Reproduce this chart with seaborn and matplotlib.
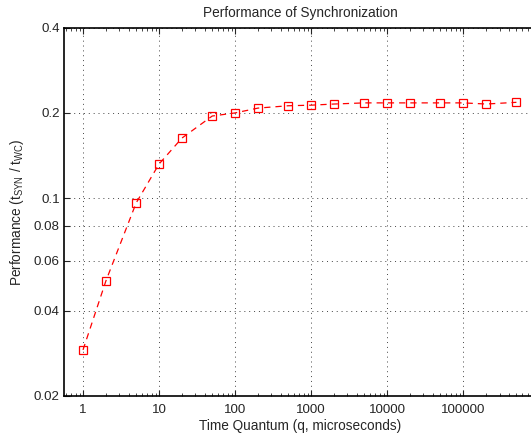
import numpy as np
import pandas as pd
import seaborn as sns
import matplotlib
matplotlib.use('Agg')
import matplotlib.pylab as plt
from matplotlib.ticker import FixedLocator, FixedFormatter, LogLocator, NullFormatter, NullLocator

quantum = [1, 2, 5, 10, 20, 50, 100, 200, 500, 1000, 2000, 5000,
           10000, 20000, 50000, 100000, 200000, 500000]
perf = [0.0291, 0.051, 0.0962, 0.132, 0.163, 0.195, 0.200, 0.208, 0.212, 0.213,
        0.215, 0.217, 0.217, 0.217, 0.217, 0.217, 0.215, 0.218]
xticks = [1, 10, 100, 1000, 10000, 100000]
xtick_labels = ['1', '10', '100', '1000', '10000', '100000']
yticks = [0.02, 0.04, 0.06, 0.08, 0.1, 0.2, 0.4]
ytick_labels = ['0.02', '0.04', '0.06', '0.08', '0.1', '0.2', '0.4']

sns.set_style('white')
plt.rcParams['font.family'] = ['Liberation Sans', 'DejaVu Sans']
plt.rcParams['mathtext.default'] = 'regular'

df = pd.DataFrame({'q': quantum, 'perf': perf})

fig = plt.figure(figsize=(5.31, 4.36), dpi=100)
ax = fig.add_axes([64/531, 1-396/436, 1-64/531+0.01, (396-27.7)/436])

sns.lineplot(data=df, x='q', y='perf', ax=ax, color='red', linestyle='--', lw=0.9,
             marker='s', markersize=5.5, markerfacecolor='none', markeredgecolor='red',
             markeredgewidth=0.9, dashes=False)
ax.lines[0].set_linestyle((0, (5, 4)))

ax.set_xscale('log')
ax.set_yscale('log')
ax.set_xlim(10**(-0.25), 10**((536-83)/76.0))
ax.set_ylim(0.02, 0.4)

ax.xaxis.set_major_locator(FixedLocator(xticks))
ax.xaxis.set_major_formatter(FixedFormatter(xtick_labels))
ax.xaxis.set_minor_locator(LogLocator(base=10, subs=np.arange(2, 10)))
ax.xaxis.set_minor_formatter(NullFormatter())
ax.yaxis.set_major_locator(FixedLocator(yticks))
ax.yaxis.set_major_formatter(FixedFormatter(ytick_labels))
ax.yaxis.set_minor_locator(NullLocator())

ax.tick_params(axis='both', which='both', direction='in', labelsize=9.6, top=True, right=False,
               left=True, bottom=True)
ax.tick_params(which='major', length=4, width=0.8)
ax.tick_params(which='minor', length=2, width=0.6)
ax.tick_params(axis='x', which='major', pad=5.5)
ax.tick_params(axis='y', which='major', pad=3)
ax.grid(True, which='major', linestyle=(0, (1, 4)), color='#444444', lw=0.7)

for s in ['left', 'bottom', 'top']:
    ax.spines[s].set_color('black')
    ax.spines[s].set_linewidth(1.2)
ax.spines['right'].set_visible(False)

ax.set_title('Performance of Synchronization', fontsize=9.8, pad=7.5)
ax.set_xlabel('Time Quantum (q, microseconds)', fontsize=9.8, labelpad=2.5)
ax.set_ylabel('Performance ($t_{SYN}$ / $t_{WC}$)', fontsize=9.8, labelpad=5.5)

fig.savefig('out.png', dpi=100)
plt.close()
